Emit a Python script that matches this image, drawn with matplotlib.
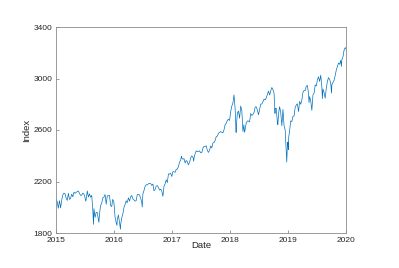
import pandas as pd
import matplotlib.pyplot as plt
import matplotlib.dates as mdates

# approximate S&P 500 closes (roughly weekly, plus a few extremes)
dates_2015 = ["2015-01-02", "2015-01-09", "2015-01-15", "2015-01-23", "2015-01-30", "2015-02-06", "2015-02-13",
              "2015-02-20", "2015-02-27", "2015-03-06", "2015-03-13", "2015-03-20", "2015-03-27", "2015-04-02",
              "2015-04-10", "2015-04-17", "2015-04-24", "2015-05-01", "2015-05-08", "2015-05-15", "2015-05-22",
              "2015-05-29", "2015-06-05", "2015-06-12", "2015-06-19", "2015-06-26", "2015-07-02", "2015-07-08",
              "2015-07-17", "2015-07-24", "2015-07-31", "2015-08-07", "2015-08-14", "2015-08-21", "2015-08-25",
              "2015-08-28", "2015-09-04", "2015-09-11", "2015-09-18", "2015-09-28", "2015-10-02", "2015-10-09",
              "2015-10-16", "2015-10-23", "2015-10-30", "2015-11-06", "2015-11-13", "2015-11-20", "2015-11-27",
              "2015-12-04", "2015-12-11", "2015-12-18", "2015-12-24", "2015-12-31"]
index_2015 = [2058, 2044, 1992, 2051, 1995, 2055, 2097,
              2110, 2104, 2071, 2053, 2108, 2061, 2067,
              2102, 2081, 2117, 2108, 2116, 2123, 2126,
              2107, 2092, 2094, 2110, 2102, 2077, 2046,
              2127, 2079, 2104, 2078, 2092, 1971, 1867,
              1989, 1921, 1961, 1958, 1882, 1951, 2014,
              2033, 2075, 2079, 2099, 2023, 2089, 2090,
              2092, 2012, 2006, 2061, 2044]

dates_2016 = ["2016-01-08", "2016-01-15", "2016-01-20", "2016-01-22", "2016-01-29", "2016-02-05", "2016-02-11",
              "2016-02-12", "2016-02-19", "2016-02-26", "2016-03-04", "2016-03-11", "2016-03-18", "2016-03-24",
              "2016-04-01", "2016-04-08", "2016-04-15", "2016-04-22", "2016-04-29", "2016-05-06", "2016-05-13",
              "2016-05-20", "2016-05-27", "2016-06-03", "2016-06-10", "2016-06-17", "2016-06-24", "2016-06-27",
              "2016-07-01", "2016-07-08", "2016-07-15", "2016-07-22", "2016-07-29", "2016-08-05", "2016-08-12",
              "2016-08-19", "2016-08-26", "2016-09-02", "2016-09-09", "2016-09-16", "2016-09-23", "2016-09-30",
              "2016-10-07", "2016-10-14", "2016-10-21", "2016-10-28", "2016-11-04", "2016-11-11", "2016-11-18",
              "2016-11-25", "2016-12-02", "2016-12-09", "2016-12-16", "2016-12-23", "2016-12-30"]
index_2016 = [1922, 1880, 1859, 1907, 1940, 1880, 1829,
              1865, 1918, 1948, 1999, 2022, 2050, 2035,
              2073, 2047, 2081, 2092, 2065, 2057, 2047,
              2052, 2099, 2099, 2096, 2071, 2037, 2001,
              2103, 2130, 2162, 2175, 2173, 2183, 2184,
              2184, 2169, 2180, 2128, 2139, 2165, 2168,
              2153, 2133, 2141, 2126, 2085, 2164, 2182,
              2213, 2192, 2259, 2258, 2264, 2239]

dates_2017 = ["2017-01-06", "2017-01-13", "2017-01-20", "2017-01-27", "2017-02-03", "2017-02-10", "2017-02-17",
              "2017-02-24", "2017-03-01", "2017-03-03", "2017-03-10", "2017-03-17", "2017-03-24", "2017-03-31",
              "2017-04-07", "2017-04-13", "2017-04-21", "2017-04-28", "2017-05-05", "2017-05-12", "2017-05-17",
              "2017-05-19", "2017-05-26", "2017-06-02", "2017-06-09", "2017-06-16", "2017-06-23", "2017-06-30",
              "2017-07-07", "2017-07-14", "2017-07-21", "2017-07-28", "2017-08-04", "2017-08-11", "2017-08-18",
              "2017-08-25", "2017-09-01", "2017-09-08", "2017-09-15", "2017-09-22", "2017-09-29", "2017-10-06",
              "2017-10-13", "2017-10-20", "2017-10-27", "2017-11-03", "2017-11-10", "2017-11-17", "2017-11-24",
              "2017-12-01", "2017-12-08", "2017-12-15", "2017-12-22", "2017-12-29"]
index_2017 = [2277, 2275, 2271, 2295, 2297, 2316, 2351,
              2367, 2396, 2383, 2373, 2378, 2344, 2363,
              2355, 2329, 2349, 2384, 2399, 2391, 2357,
              2382, 2416, 2439, 2432, 2433, 2438, 2423,
              2425, 2459, 2473, 2472, 2477, 2441, 2426,
              2443, 2476, 2461, 2500, 2502, 2519, 2549,
              2553, 2575, 2581, 2588, 2582, 2578, 2602,
              2642, 2652, 2675, 2683, 2674]

dates_2018 = ["2018-01-05", "2018-01-12", "2018-01-19", "2018-01-26", "2018-02-02", "2018-02-08", "2018-02-09",
              "2018-02-16", "2018-02-23", "2018-03-02", "2018-03-09", "2018-03-16", "2018-03-23", "2018-03-29",
              "2018-04-02", "2018-04-06", "2018-04-13", "2018-04-20", "2018-04-27", "2018-05-04", "2018-05-11",
              "2018-05-18", "2018-05-25", "2018-06-01", "2018-06-08", "2018-06-15", "2018-06-22", "2018-06-29",
              "2018-07-06", "2018-07-13", "2018-07-20", "2018-07-27", "2018-08-03", "2018-08-10", "2018-08-17",
              "2018-08-24", "2018-08-31", "2018-09-07", "2018-09-14", "2018-09-21", "2018-09-28", "2018-10-05",
              "2018-10-11", "2018-10-12", "2018-10-19", "2018-10-26", "2018-10-29", "2018-11-02", "2018-11-09",
              "2018-11-16", "2018-11-23", "2018-11-30", "2018-12-07", "2018-12-14", "2018-12-21", "2018-12-24",
              "2018-12-28", "2018-12-31"]
index_2018 = [2743, 2786, 2810, 2873, 2762, 2581, 2620,
              2732, 2747, 2691, 2786, 2752, 2588, 2641,
              2582, 2604, 2656, 2670, 2670, 2663, 2728,
              2713, 2721, 2735, 2779, 2780, 2755, 2718,
              2760, 2801, 2802, 2819, 2840, 2833, 2850,
              2875, 2902, 2872, 2905, 2930, 2914, 2886,
              2728, 2767, 2768, 2658, 2641, 2723, 2781,
              2736, 2633, 2760, 2633, 2600, 2417, 2351,
              2486, 2507]

dates_2019 = ["2019-01-03", "2019-01-04", "2019-01-11", "2019-01-18", "2019-01-25", "2019-02-01", "2019-02-08",
              "2019-02-15", "2019-02-22", "2019-03-01", "2019-03-08", "2019-03-15", "2019-03-22", "2019-03-29",
              "2019-04-05", "2019-04-12", "2019-04-18", "2019-04-26", "2019-05-03", "2019-05-10", "2019-05-13",
              "2019-05-17", "2019-05-24", "2019-05-31", "2019-06-07", "2019-06-14", "2019-06-21", "2019-06-28",
              "2019-07-05", "2019-07-12", "2019-07-19", "2019-07-26", "2019-08-02", "2019-08-05", "2019-08-09",
              "2019-08-16", "2019-08-23", "2019-08-30", "2019-09-06", "2019-09-13", "2019-09-20", "2019-09-27",
              "2019-10-02", "2019-10-04", "2019-10-11", "2019-10-18", "2019-10-25", "2019-11-01", "2019-11-08",
              "2019-11-15", "2019-11-22", "2019-11-29", "2019-12-03", "2019-12-06", "2019-12-13", "2019-12-20",
              "2019-12-27", "2019-12-31"]
index_2019 = [2448, 2532, 2596, 2671, 2665, 2707, 2708,
              2776, 2793, 2804, 2743, 2822, 2800, 2834,
              2893, 2907, 2905, 2940, 2946, 2881, 2812,
              2860, 2826, 2752, 2873, 2887, 2950, 2942,
              2990, 3014, 2977, 3026, 2932, 2844, 2919,
              2889, 2847, 2926, 2979, 3007, 2992, 2962,
              2887, 2952, 2970, 2986, 3023, 3067, 3093,
              3120, 3110, 3141, 3093, 3146, 3169, 3221,
              3240, 3231]

dates = pd.to_datetime(dates_2015 + dates_2016 + dates_2017 + dates_2018 + dates_2019)
values = index_2015 + index_2016 + index_2017 + index_2018 + index_2019

y_ticks = [1800, 2200, 2600, 3000, 3400]
x_ticks = pd.to_datetime(["2015-01-01", "2016-01-01", "2017-01-01", "2018-01-01", "2019-01-01", "2020-01-01"])

plt.rcParams['font.family'] = ['Liberation Sans', 'DejaVu Sans']

fig = plt.figure(figsize=(3.99, 2.68), dpi=100)
ax = fig.add_axes([56 / 399, 35 / 268, 290 / 399, 206 / 268])
ax.plot(dates, values, color='#0072BD', linewidth=0.5)

ax.set_xlim(x_ticks[0], x_ticks[-1])
ax.set_ylim(1800, 3400)
ax.set_xticks(x_ticks)
ax.xaxis.set_major_formatter(mdates.DateFormatter('%Y'))
ax.set_yticks(y_ticks)

for s in ax.spines.values():
    s.set_color('#8a8a8a')
    s.set_linewidth(0.6)
ax.tick_params(direction='in', length=2.5, width=0.6, color='#8a8a8a',
               labelsize=6, labelcolor='#262626')
ax.tick_params(axis='x', pad=3)
ax.tick_params(axis='y', pad=2.5)
ax.set_xlabel('Date', fontsize=6.8, color='#262626', labelpad=-2)
ax.set_ylabel('Index', fontsize=6.8, color='#262626', labelpad=2)

fig.savefig('out.png', dpi=100)
